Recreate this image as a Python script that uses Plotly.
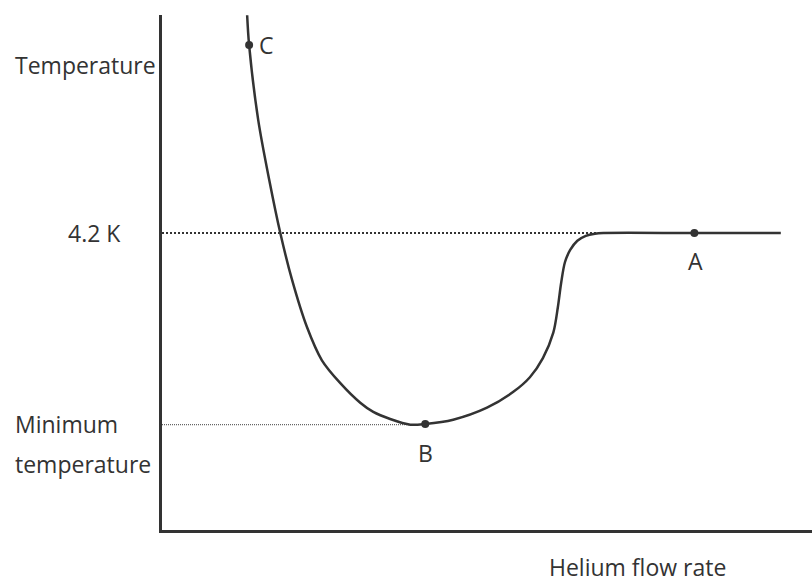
import plotly.graph_objects as go

# schematic curve: temperature vs helium flow rate (arbitrary flow units, K)
flow = [1.31, 1.34, 1.48, 1.65, 1.82, 2.00, 2.23, 2.46, 2.74, 3.05, 3.25, 3.51,
        3.82, 4.05, 4.48, 5.00, 5.40, 5.66, 5.86, 6.02, 6.09, 6.14, 6.20, 6.28,
        6.39, 6.52, 6.66, 6.79, 8.19, 9.52]
temp = [7.28, 6.86, 5.80, 4.95, 4.20, 3.54, 2.87, 2.40, 2.08, 1.80, 1.67, 1.57,
        1.49, 1.50, 1.56, 1.73, 1.95, 2.16, 2.43, 2.79, 3.15, 3.49, 3.79, 3.96,
        4.09, 4.16, 4.19, 4.20, 4.20, 4.20]

point_names = ['C', 'B', 'A']
point_flow = [1.34, 4.05, 8.19]
point_temp = [6.86, 1.50, 4.20]

t_boil = 4.2
t_min = 1.49

ink = '#333333'
font = dict(family='Open Sans', size=23, color='#333333')

fig = go.Figure()

# reference lines
fig.add_trace(go.Scatter(
    x=[0, 6.79], y=[t_boil, t_boil], mode='lines',
    line=dict(color=ink, width=2.2, dash='2px,2px'), hoverinfo='none'))
fig.add_trace(go.Scatter(
    x=[0, 3.82], y=[t_min, t_min], mode='lines',
    line=dict(color='#666666', width=1.2, dash='1px,1px'), hoverinfo='none'))

fig.add_trace(go.Scatter(
    x=flow, y=temp, mode='lines',
    line=dict(color=ink, width=2.5, shape='spline', smoothing=0.9),
    hoverinfo='none'))

fig.add_trace(go.Scatter(
    x=point_flow, y=point_temp, mode='markers',
    marker=dict(color=ink, size=8), hoverinfo='none'))

# point labels sit in data space
for name, x, y in zip(point_names, [1.46, 4.05, 8.20], [6.86, 1.09, 3.80]):
    fig.add_annotation(x=x, y=y, text=name, showarrow=False,
                       xanchor='left' if name == 'C' else 'center',
                       yanchor='middle', font=font)

# axis texts sit outside the plot, so place them in paper space
paper_labels = [
    ('Temperature', -0.229, 0.903, 'left'),
    ('4.2 K', -0.060, 0.577, 'right'),
    ('Minimum', -0.229, 0.206, 'left'),
    ('temperature', -0.229, 0.128, 'left'),
    ('Helium flow rate', 0.592, -0.072, 'left'),
]
for text, x, y, anchor in paper_labels:
    fig.add_annotation(x=x, y=y, xref='paper', yref='paper', text=text,
                       showarrow=False, xanchor=anchor, yanchor='middle',
                       font=font)

fig.update_layout(
    width=812, height=582,
    showlegend=False,
    plot_bgcolor='white', paper_bgcolor='white',
    margin=dict(l=162, r=0, t=15, b=52),
    xaxis=dict(range=[0, 10], showgrid=False, zeroline=False,
               showticklabels=False, ticks='',
               showline=True, linecolor=ink, linewidth=2.5),
    yaxis=dict(range=[0, 7.283], showgrid=False, zeroline=False,
               showticklabels=False, ticks='',
               showline=True, linecolor=ink, linewidth=2.5),
)

fig.write_html('out.html', config={'displayModeBar': False},
               post_script="document.body.style.margin='0';"
                           "document.body.style.overflow='hidden';")
